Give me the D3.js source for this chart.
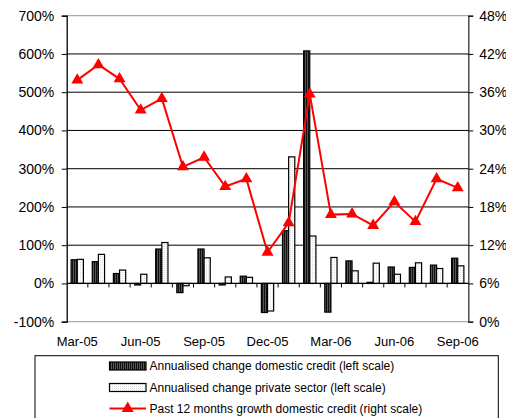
<!DOCTYPE html>
<html><head><meta charset="utf-8">
<script src="https://cdn.jsdelivr.net/npm/d3@7"></script>
<style>body{margin:0;background:#fff}svg{display:block}text{font-family:"Liberation Sans",Arial,sans-serif;font-size:12px;fill:#000}</style>
</head><body>
<svg id="c" width="506" height="418"></svg>
<script>
const months = ["Mar-05","Apr-05","May-05","Jun-05","Jul-05","Aug-05","Sep-05","Oct-05","Nov-05","Dec-05","Jan-06","Feb-06","Mar-06","Apr-06","May-06","Jun-06","Jul-06","Aug-06","Sep-06"];
const domesticCredit = [62, 57, 26, -4, 90, -24, 90, -4, 19, -76, 138, 608, -75, 59, 3, 43, 42, 48, 66];
const privateSector = [63, 76, 35, 24, 107, -6, 67, 17, 16, -72, 331, 124, 68, 33, 53, 24, 54, 39, 46];
const growth12m = [37.9, 40.3, 38.1, 33.2, 35.0, 24.3, 25.8, 21.2, 22.4, 10.9, 15.5, 35.7, 16.8, 16.9, 15.1, 18.8, 15.7, 22.4, 21.0];
const xTickLabels = ["Mar-05","Jun-05","Sep-05","Dec-05","Mar-06","Jun-06","Sep-06"];
const leftTicks = [-100, 0, 100, 200, 300, 400, 500, 600, 700];
const rightTicks = [0, 6, 12, 18, 24, 30, 36, 42, 48];
const seriesNames = ["Annualised change domestic credit (left scale)","Annualised change private sector (left scale)","Past 12 months growth domestic credit (right scale)"];

const svg = d3.select("#c");
const L = 66.7, R = 468.3, T = 15.7, B = 321.7;

const defs = svg.append("defs");
const pd = defs.append("pattern").attr("id","pd").attr("patternUnits","userSpaceOnUse").attr("width",2).attr("height",2);
pd.append("rect").attr("width",2).attr("height",2).attr("fill","#555");
pd.append("rect").attr("width",1).attr("height",2).attr("fill","#111");
const pw = defs.append("pattern").attr("id","pw").attr("patternUnits","userSpaceOnUse").attr("width",2).attr("height",2);
pw.append("rect").attr("width",2).attr("height",2).attr("fill","#fff");
pw.append("rect").attr("width",1).attr("height",1).attr("fill","#ddd");

const x = d3.scaleBand().domain(months).range([L, R]).paddingInner(0).paddingOuter(0);
const x1 = d3.scaleBand().domain(["d","p"]).range([0, x.bandwidth()]).paddingInner(0).paddingOuter(0.72);
const yL = d3.scaleLinear().domain([-100, 700]).range([B, T]);
const yR = d3.scaleLinear().domain([0, 48]).range([B, T]);

// gridlines
svg.append("g").selectAll("line").data(leftTicks.filter(d => d > -100 && d < 700)).join("line")
  .attr("x1", L).attr("x2", R).attr("y1", d => yL(d)).attr("y2", d => yL(d))
  .attr("stroke", "#000").attr("stroke-width", 1);
svg.append("line").attr("x1", L).attr("x2", R).attr("y1", T).attr("y2", T).attr("stroke", "#aaa").attr("stroke-width", 1.2);
svg.append("line").attr("x1", L).attr("x2", R).attr("y1", B).attr("y2", B).attr("stroke", "#aaa").attr("stroke-width", 1.2);

// left axis
const gl = svg.append("g").attr("transform", `translate(${L},0)`)
  .call(d3.axisLeft(yL).tickValues(leftTicks).tickFormat(d => d + "%").tickSize(5).tickPadding(7.5));
gl.select(".domain").attr("stroke", "#000").attr("stroke-width", 1.3);
gl.selectAll("text").style("font-size", "14px").style("font-family", '"Liberation Sans",Arial,sans-serif').attr("fill", "#000");

// right axis
const gr = svg.append("g").attr("transform", `translate(${R},0)`)
  .call(d3.axisRight(yR).tickValues(rightTicks).tickFormat(d => d + "%").tickSize(5).tickPadding(6));
gr.select(".domain").attr("stroke", "#333").attr("stroke-width", 1.3);
gr.selectAll("text").style("font-size", "14px").style("font-family", '"Liberation Sans",Arial,sans-serif').attr("fill", "#000");

// bars
const bars = svg.append("g");
months.forEach((m, i) => {
  [["d", domesticCredit[i], "url(#pd)"], ["p", privateSector[i], "url(#pw)"]].forEach(([k, v, f]) => {
    bars.append("rect")
      .attr("x", x(m) + x1(k)).attr("width", x1.bandwidth())
      .attr("y", yL(Math.max(0, v))).attr("height", Math.abs(yL(v) - yL(0)))
      .attr("fill", f).attr("stroke", "#000").attr("stroke-width", 1.2);
  });
});

// zero axis with category ticks
svg.append("line").attr("x1", L).attr("x2", R).attr("y1", yL(0)).attr("y2", yL(0)).attr("stroke", "#000").attr("stroke-width", 1.3);
svg.append("g").selectAll("line").data(months.slice(1)).join("line")
  .attr("x1", d => x(d)).attr("x2", d => x(d)).attr("y1", yL(0)).attr("y2", yL(0) + 4)
  .attr("stroke", "#000").attr("stroke-width", 1);

// x labels
svg.append("g").selectAll("text").data(xTickLabels).join("text")
  .attr("x", d => x(d) + x.bandwidth() / 2).attr("y", 345.5).attr("text-anchor", "middle")
  .style("font-size", "13px").text(d => d);

// line
const line = d3.line().x((d, i) => x(months[i]) + x.bandwidth() / 2).y(d => yR(d));
svg.append("path").datum(growth12m).attr("d", line).attr("fill", "none").attr("stroke", "#ff0000").attr("stroke-width", 2);
const tri = d3.symbol().type(d3.symbolTriangle).size(62);
svg.append("g").selectAll("path").data(growth12m).join("path")
  .attr("transform", (d, i) => `translate(${x(months[i]) + x.bandwidth() / 2},${yR(d)})`)
  .attr("d", tri).attr("fill", "#ff0000");

// legend
const lg = svg.append("g");
lg.append("rect").attr("x", 35).attr("y", 355.7).attr("width", 463.3).attr("height", 80).attr("fill", "none").attr("stroke", "#000").attr("stroke-width", 1);
const rowY = [366, 387.5, 408.5];
lg.append("rect").attr("x", 109.5).attr("y", rowY[0] - 4).attr("width", 36.5).attr("height", 8).attr("fill", "url(#pd)").attr("stroke", "#000").attr("stroke-width", 1.2);
lg.append("rect").attr("x", 109.5).attr("y", rowY[1] - 4).attr("width", 36.5).attr("height", 8).attr("fill", "url(#pw)").attr("stroke", "#000").attr("stroke-width", 1.2);
lg.append("line").attr("x1", 109.5).attr("x2", 146).attr("y1", rowY[2]).attr("y2", rowY[2]).attr("stroke", "#ff0000").attr("stroke-width", 2);
lg.append("path").attr("transform", `translate(127.7,${rowY[2]})`).attr("d", tri).attr("fill", "#ff0000");
lg.selectAll("text").data(seriesNames).join("text")
  .attr("x", 149.5).attr("y", (d, i) => rowY[i] + 4.3).text(d => d);
</script>
</body></html>
